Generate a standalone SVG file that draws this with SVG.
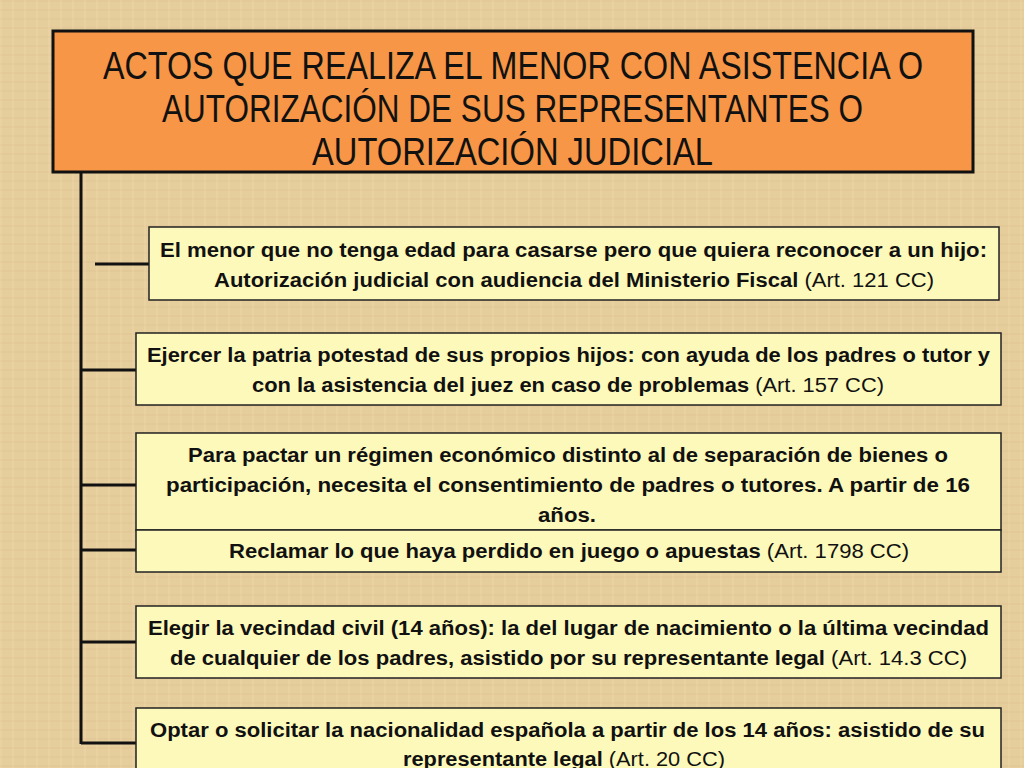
<svg xmlns="http://www.w3.org/2000/svg" width="1024" height="768" viewBox="0 0 1024 768">
<defs>
<pattern id="tex" width="12" height="9" patternUnits="userSpaceOnUse">
<rect width="12" height="9" fill="#e6cd9c"/>
<rect x="0" y="0" width="12" height="2" fill="#d9bd87" opacity="0.25"/>
<rect x="0" y="0" width="2" height="9" fill="#efdcb2" opacity="0.3"/>
</pattern>
<style>
.hdr{fill:#f79646;stroke:#111;stroke-width:3}
.box{fill:#fdf9ba;stroke:#222;stroke-width:1.5}
.ht{font-family:"Liberation Sans",Arial,sans-serif;font-size:39px;fill:#111}
.bt{font-family:"Liberation Sans",Arial,sans-serif;font-size:20px;font-weight:bold;fill:#111}
.n{font-weight:normal}
.con{stroke:#111;stroke-width:3;fill:none}
</style>
</defs>
<rect width="1024" height="768" fill="url(#tex)"/>
<g id="connectors">
<line class="con" x1="81" y1="172" x2="81" y2="744"/>
<line class="con" x1="95" y1="264" x2="149" y2="264"/>
<line class="con" x1="81" y1="370" x2="136" y2="370"/>
<line class="con" x1="81" y1="485" x2="136" y2="485"/>
<line class="con" x1="81" y1="550" x2="136" y2="550"/>
<line class="con" x1="81" y1="642" x2="136" y2="642"/>
<line class="con" x1="81" y1="743" x2="136" y2="743"/>
</g>
<g id="header">
<rect class="hdr" x="53" y="31" width="920" height="141"/>
<text class="ht" transform="translate(103,79) scale(0.82,1)" x="0" y="0" textLength="1000" lengthAdjust="spacingAndGlyphs">ACTOS QUE REALIZA EL MENOR CON ASISTENCIA O</text>
<text class="ht" transform="translate(162,122) scale(0.82,1)" x="0" y="0" textLength="855" lengthAdjust="spacingAndGlyphs">AUTORIZACIÓN DE SUS REPRESENTANTES O</text>
<text class="ht" transform="translate(312,165) scale(0.82,1)" x="0" y="0" textLength="489" lengthAdjust="spacingAndGlyphs">AUTORIZACIÓN JUDICIAL</text>
</g>
<g id="node1">
<rect class="box" x="149" y="227" width="850" height="73"/>
<text class="bt" x="160" y="257" textLength="827" lengthAdjust="spacingAndGlyphs">El menor que no tenga edad para casarse pero que quiera reconocer a un hijo:</text>
<text class="bt" x="214" y="287" textLength="720" lengthAdjust="spacingAndGlyphs">Autorización judicial con audiencia del Ministerio Fiscal <tspan class="n">(Art. 121 CC)</tspan></text>
</g>
<g id="node2">
<rect class="box" x="136" y="333" width="865" height="72"/>
<text class="bt" x="147" y="362" textLength="843" lengthAdjust="spacingAndGlyphs">Ejercer la patria potestad de sus propios hijos: con ayuda de los padres o tutor y</text>
<text class="bt" x="252" y="392" textLength="632" lengthAdjust="spacingAndGlyphs">con la asistencia del juez en caso de problemas <tspan class="n">(Art. 157 CC)</tspan></text>
</g>
<g id="node3">
<rect class="box" x="136" y="433" width="865" height="97"/>
<text class="bt" x="188" y="462" textLength="760" lengthAdjust="spacingAndGlyphs">Para pactar un régimen económico distinto al de separación de bienes o</text>
<text class="bt" x="166" y="492" textLength="804" lengthAdjust="spacingAndGlyphs">participación, necesita el consentimiento de padres o tutores. A partir de 16</text>
<text class="bt" x="538" y="522" textLength="58" lengthAdjust="spacingAndGlyphs">años.</text>
</g>
<g id="node4">
<rect class="box" x="136" y="530" width="865" height="42"/>
<text class="bt" x="229" y="558" textLength="680" lengthAdjust="spacingAndGlyphs">Reclamar lo que haya perdido en juego o apuestas <tspan class="n">(Art. 1798 CC)</tspan></text>
</g>
<g id="node5">
<rect class="box" x="136" y="606" width="865" height="72"/>
<text class="bt" x="148" y="635" textLength="841" lengthAdjust="spacingAndGlyphs">Elegir la vecindad civil (14 años): la del lugar de nacimiento o la última vecindad</text>
<text class="bt" x="170" y="665" textLength="797" lengthAdjust="spacingAndGlyphs">de cualquier de los padres, asistido por su representante legal <tspan class="n">(Art. 14.3 CC)</tspan></text>
</g>
<g id="node6">
<rect class="box" x="136" y="708" width="865" height="80"/>
<text class="bt" x="150" y="737" textLength="835" lengthAdjust="spacingAndGlyphs">Optar o solicitar la nacionalidad española a partir de los 14 años: asistido de su</text>
<text class="bt" x="403" y="766" textLength="322" lengthAdjust="spacingAndGlyphs">representante legal <tspan class="n">(Art. 20 CC)</tspan></text>
</g>
</svg>
